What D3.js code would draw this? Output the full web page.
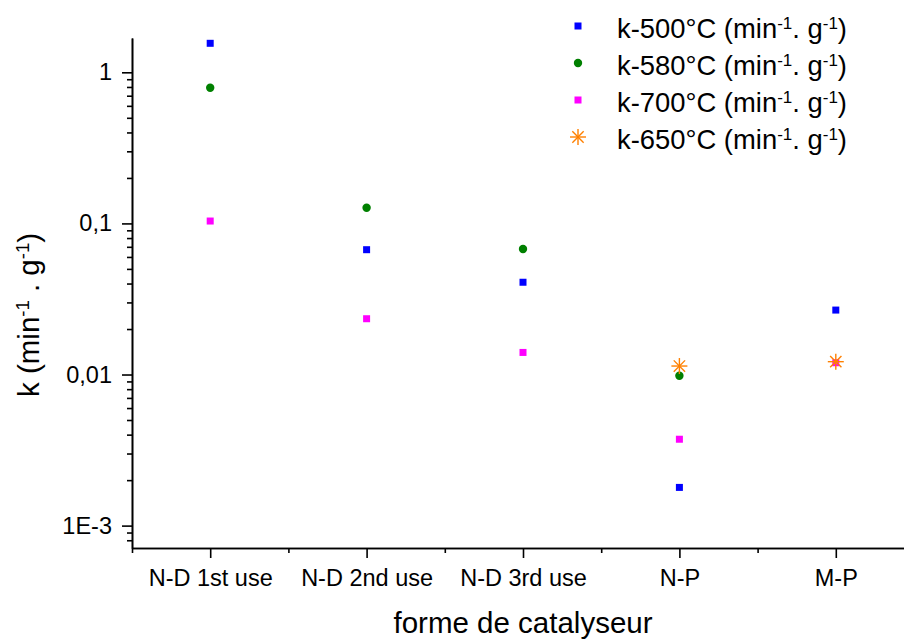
<!DOCTYPE html>
<html><head><meta charset="utf-8">
<script src="https://cdn.jsdelivr.net/npm/d3@7"></script>
<style>
body{margin:0;background:#fff;}
svg{display:block;font-family:"Liberation Sans",Arial,sans-serif;}
</style></head><body>
<svg id="c" width="904" height="639"></svg>
<script>
const categories = ["N-D 1st use","N-D 2nd use","N-D 3rd use","N-P","M-P"];
const k500 = [1.556, 0.0670, 0.0408, 0.00179, 0.0267];
const k580 = [0.791, 0.127, 0.0677, 0.00982, null];
const k700 = [0.1037, 0.0234, 0.0140, 0.00373, 0.01197];
const k650 = [null, null, null, 0.01138, 0.01216];
const yMajor = [1e-3, 1e-2, 1e-1, 1];
const yMajorLabels = ["1E-3","0,01","0,1","1"];
const seriesNames = ["k-500°C","k-580°C","k-700°C","k-650°C"];

const svg = d3.select("#c");
const x = d3.scaleLinear().domain([0.5, 5.5]).range([132, 914]);
const y = d3.scaleLog().domain([7.11e-4, 1.687]).range([548, 38]);

// minor y ticks
const yMinor = [];
for (let e = -4; e <= 0; e++) for (let k = 2; k <= 9; k++) {
  const v = k * Math.pow(10, e);
  if (v >= 7.11e-4 && v <= 1.687) yMinor.push(v);
}
const xMinor = [0.5,1.5,2.5,3.5,4.5,5.5];

const axisStyle = g => { g.selectAll("path,line").attr("stroke","#000").attr("stroke-width",1.6); };

svg.append("g").attr("transform","translate(132,0)")
  .call(d3.axisLeft(y).tickValues(yMinor).tickSize(5).tickFormat("").tickSizeOuter(0))
  .call(axisStyle);
const ya = svg.append("g").attr("transform","translate(132,0)")
  .call(d3.axisLeft(y).tickValues(yMajor).tickSize(10).tickPadding(10).tickSizeOuter(0)
    .tickFormat((d,i)=>yMajorLabels[i]))
  .call(axisStyle);
ya.selectAll("text").attr("font-size",23.5).attr("fill","#000").attr("font-family","Liberation Sans, Arial, sans-serif");

svg.append("g").attr("transform","translate(0,548)")
  .call(d3.axisBottom(x).tickValues(xMinor).tickSize(5).tickFormat("").tickSizeOuter(0))
  .call(axisStyle);
const xa = svg.append("g").attr("transform","translate(0,548)")
  .call(d3.axisBottom(x).tickValues([1,2,3,4,5]).tickSize(10).tickPadding(11).tickSizeOuter(0)
    .tickFormat((d,i)=>categories[i]))
  .call(axisStyle);
xa.selectAll("text").attr("font-size",23.5).attr("fill","#000").attr("font-family","Liberation Sans, Arial, sans-serif");

// axis titles
svg.append("text").attr("x",523).attr("y",633).attr("text-anchor","middle")
  .attr("font-size",29.5).text("forme de catalyseur");
const yl = svg.append("text").attr("transform","translate(39,315) rotate(-90)")
  .attr("text-anchor","middle").attr("font-size",29.5);
yl.append("tspan").text("k (min");
yl.append("tspan").attr("baseline-shift","super").attr("font-size",18.5).text("-1");
yl.append("tspan").text(" . g");
yl.append("tspan").attr("baseline-shift","super").attr("font-size",18.5).text("-1");
yl.append("tspan").text(")");

// markers
const colors = ["#0000FF","#008000","#FF00FF","#FF8000"];
function drawMarker(g, type, cx, cy, color) {
  if (type === "square") {
    g.append("rect").attr("x",cx-3.5).attr("y",cy-3.5).attr("width",7).attr("height",7).attr("fill",color);
  } else if (type === "circle") {
    g.append("circle").attr("cx",cx).attr("cy",cy).attr("r",4.2).attr("fill",color);
  } else {
    const r = 8;
    for (let a = 0; a < 4; a++) {
      const t = a * Math.PI / 4;
      g.append("line").attr("x1",cx - r*Math.cos(t)).attr("y1",cy - r*Math.sin(t))
        .attr("x2",cx + r*Math.cos(t)).attr("y2",cy + r*Math.sin(t))
        .attr("stroke",color).attr("stroke-width",1.4);
    }
  }
}
const series = [
  {vals:k500, type:"square", color:colors[0]},
  {vals:k580, type:"circle", color:colors[1]},
  {vals:k700, type:"square", color:colors[2]},
  {vals:k650, type:"star", color:colors[3]}
];
const pts = svg.append("g");
series.forEach(s => s.vals.forEach((v,i) => {
  if (v == null) return;
  drawMarker(pts, s.type, x(i+1), y(v), s.color);
}));

// legend
const leg = svg.append("g");
series.forEach((s,i) => {
  const cy = 26 + i*37;
  drawMarker(leg, s.type, 578, cy, s.color);
  const t = leg.append("text").attr("x",617).attr("y",cy+12).attr("font-size",27.4);
  t.append("tspan").text(seriesNames[i] + " (min");
  t.append("tspan").attr("baseline-shift","super").attr("font-size",17).text("-1");
  t.append("tspan").text(". g");
  t.append("tspan").attr("baseline-shift","super").attr("font-size",17).text("-1");
  t.append("tspan").text(")");
});
</script>
</body></html>
